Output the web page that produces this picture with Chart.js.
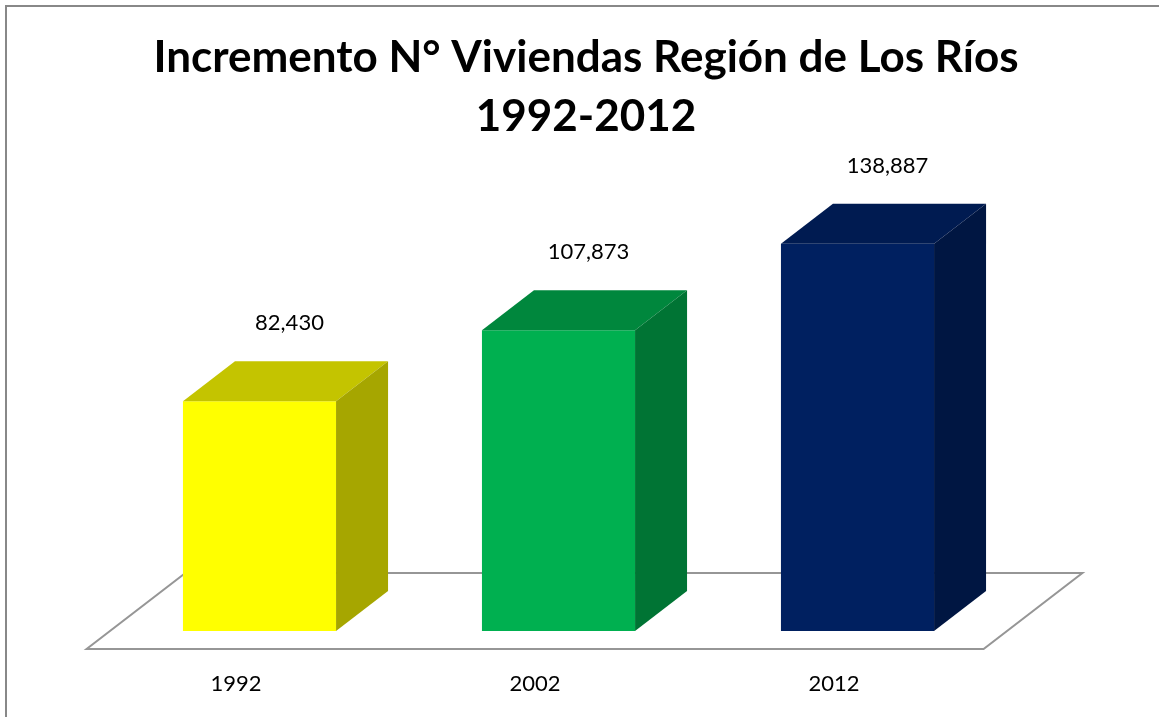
<!DOCTYPE html>
<html>
<head>
<meta charset="utf-8">
<script src="https://cdn.jsdelivr.net/npm/chart.js@4.4.0/dist/chart.umd.min.js"></script>
<style>
  html, body { margin: 0; padding: 0; background: #ffffff; }
  #wrap { width: 1159px; height: 717px; position: relative; }
</style>
</head>
<body>
<div id="wrap"><canvas id="viviendas"></canvas></div>
<script>
// Datos: número de viviendas por censo
const anios = ['1992', '2002', '2012'];
const viviendas = [82430, 107873, 138887];

// Colores de cada cara de las barras 3D
const colorFrente = ['#FFFF00', '#00B050', '#002060'];
const colorTapa = ['#C4C400', '#00873D', '#001B51'];
const colorLado = ['#A6A600', '#007434', '#001642'];

// Profundidad de las barras y del piso
const prof = { dx: 52, dy: 40 };
const piso = { dx: 23.4, dy: 18 };

// Plugin que dibuja el marco, el piso, las caras 3D y las etiquetas
const cubos3D = {
    id: 'cubos3D',
    beforeDraw(chart) {
        const ctx = chart.ctx;
        ctx.save();
        ctx.strokeStyle = '#888888';
        ctx.lineWidth = 2;
        ctx.beginPath();
        ctx.moveTo(6, chart.height + 5);
        ctx.lineTo(6, 6);
        ctx.lineTo(chart.width + 5, 6);
        ctx.stroke();
        ctx.restore();
    },
    beforeDatasetsDraw(chart) {
        const ctx = chart.ctx;
        const area = chart.chartArea;
        const y0 = chart.scales.y.getPixelForValue(0);
        ctx.save();
        ctx.fillStyle = '#ffffff';
        ctx.strokeStyle = '#969696';
        ctx.lineWidth = 2;
        ctx.beginPath();
        ctx.moveTo(area.left - piso.dx, y0 + piso.dy);
        ctx.lineTo(area.right - piso.dx, y0 + piso.dy);
        ctx.lineTo(area.right + prof.dx + piso.dx, y0 - prof.dy - piso.dy);
        ctx.lineTo(area.left + prof.dx + piso.dx, y0 - prof.dy - piso.dy);
        ctx.closePath();
        ctx.fill();
        ctx.stroke();
        ctx.restore();
    },
    afterDatasetsDraw(chart) {
        const ctx = chart.ctx;
        const meta = chart.getDatasetMeta(0);
        const xScale = chart.scales.x;
        const y0 = chart.scales.y.getPixelForValue(0);
        ctx.save();
        meta.data.forEach((bar, i) => {
            const p = bar.getProps(['x', 'y', 'base', 'width'], true);
            const izq = p.x - p.width / 2;
            const der = p.x + p.width / 2;
            // cara superior
            ctx.fillStyle = colorTapa[i];
            ctx.beginPath();
            ctx.moveTo(izq, p.y);
            ctx.lineTo(izq + prof.dx, p.y - prof.dy);
            ctx.lineTo(der + prof.dx, p.y - prof.dy);
            ctx.lineTo(der, p.y);
            ctx.closePath();
            ctx.fill();
            // cara lateral
            ctx.fillStyle = colorLado[i];
            ctx.beginPath();
            ctx.moveTo(der, p.y);
            ctx.lineTo(der + prof.dx, p.y - prof.dy);
            ctx.lineTo(der + prof.dx, p.base - prof.dy);
            ctx.lineTo(der, p.base);
            ctx.closePath();
            ctx.fill();
            // etiqueta de valor
            ctx.fillStyle = '#000000';
            ctx.font = '22px Lato';
            ctx.textAlign = 'center';
            ctx.textBaseline = 'middle';
            ctx.fillText(viviendas[i].toLocaleString('en-US'), p.x + 30, p.y - prof.dy - 38);
        });
        // etiquetas del eje X en el borde frontal del piso
        anios.forEach((a, i) => {
            ctx.fillStyle = '#000000';
            ctx.font = '22px Lato';
            ctx.textAlign = 'center';
            ctx.textBaseline = 'middle';
            ctx.fillText(a, xScale.getPixelForValue(i) - piso.dx, y0 + 53);
        });
        ctx.restore();
    }
};

// Ejes invisibles que sólo reservan espacio a los lados
const ejeOculto = (pos, ancho) => ({
    display: true,
    position: pos,
    grid: { display: false },
    border: { display: false },
    ticks: { display: false },
    afterFit(scale) { scale.width = ancho; }
});

const ctx = document.getElementById('viviendas').getContext('2d');
new Chart(ctx, {
    type: 'bar',
    data: {
        labels: anios,
        datasets: [{
            label: 'Viviendas',
            data: viviendas,
            backgroundColor: colorFrente,
            borderWidth: 0,
            categoryPercentage: 1,
            barPercentage: 0.512
        }]
    },
    options: {
        responsive: true,
        maintainAspectRatio: false,
        animation: false,
        layout: {
            padding: { top: 10, left: 13, right: 0, bottom: 86 }
        },
        plugins: {
            legend: { display: false },
            tooltip: { enabled: false },
            title: {
                display: true,
                text: ['Incremento N° Viviendas Región de Los Ríos', '1992-2012'],
                color: '#000000',
                font: { family: 'Lato', size: 44, weight: 'bold', lineHeight: 1.34 },
                padding: { top: 18, bottom: 39 }
            }
        },
        scales: {
            x: { display: false },
            y: Object.assign(ejeOculto('left', 97), { min: 0, max: 160000 }),
            y2: ejeOculto('right', 152)
        }
    },
    plugins: [cubos3D]
});
</script>
</body>
</html>
